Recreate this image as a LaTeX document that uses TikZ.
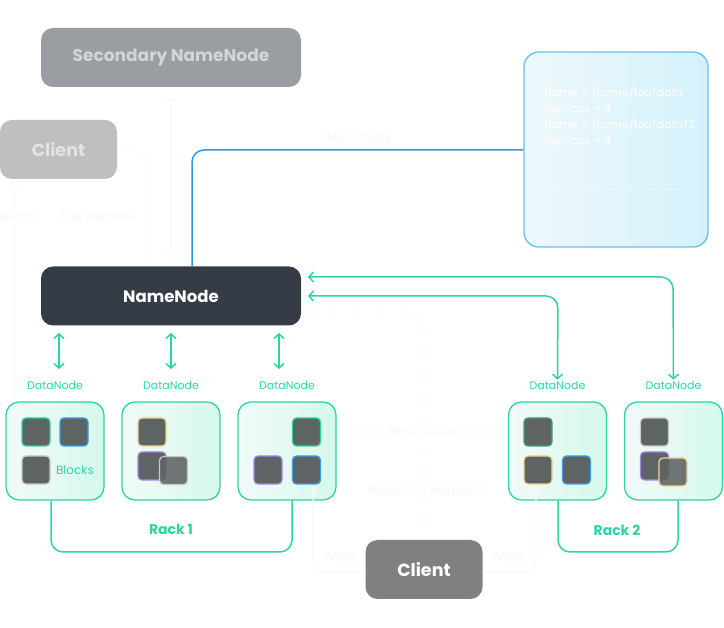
\documentclass[tikz,border=0pt]{standalone}
\usepackage{fontspec}
\setmainfont{Poppins}
\usetikzlibrary{arrows.meta}
\definecolor{grn}{HTML}{2DD4A2}
\definecolor{bluel}{HTML}{2B9AE6}
\definecolor{metab}{HTML}{6CBDF0}
\definecolor{metal}{HTML}{EEF8FB}
\definecolor{metar}{HTML}{D4F2FC}
\definecolor{secf}{HTML}{9A9EA2}
\definecolor{sect}{HTML}{D3D5D7}
\definecolor{cl1f}{HTML}{BFBFBF}
\definecolor{cl1t}{HTML}{E3E3E3}
\definecolor{nnf}{HTML}{353C46}
\definecolor{cl2f}{HTML}{808080}
\definecolor{blkf}{HTML}{5E6363}
\definecolor{bgreen}{HTML}{2DD4A2}
\definecolor{bblue}{HTML}{3A9FE8}
\definecolor{bgray}{HTML}{C8C8C8}
\definecolor{byell}{HTML}{F1D58E}
\definecolor{bpurp}{HTML}{A883EA}
\definecolor{faint}{HTML}{FAFAFA}
\definecolor{faintt}{HTML}{F8F8F8}
\definecolor{metat}{HTML}{FFFFFF}
\definecolor{dnl}{HTML}{F1FAF8}
\definecolor{dnr}{HTML}{D6F9EC}
\tikzset{
  bigbox/.style={rounded corners=12pt, minimum width=260pt, minimum height=59pt, inner sep=0pt, font=\fontsize{17}{20}\selectfont\bfseries},
  clbox/.style={rounded corners=12pt, minimum width=117pt, minimum height=59pt, inner sep=0pt, font=\fontsize{17.5}{20}\selectfont\bfseries},
  dnbox/.style={draw=grn, line width=1.3pt, rounded corners=13pt, left color=dnl, right color=dnr, minimum width=98pt, minimum height=98pt, inner sep=0pt},
  blk/.style={draw=#1, fill=blkf, line width=1.2pt, rounded corners=4pt, minimum size=28pt, inner sep=0pt},
  dnlabel/.style={text=grn, font=\fontsize{11}{13}\selectfont, inner sep=1pt},
  gline/.style={draw=grn, line width=1.5pt, rounded corners=12pt},
  gdarrow/.style={gline, {Straight Barb[length=4.5pt,width=10pt]}-{Straight Barb[length=4.5pt,width=10pt]}},
  fline/.style={draw=faint, line width=1.2pt, rounded corners=12pt},
  farrow/.style={fline, -{Straight Barb[length=4pt,width=9pt]}},
  ftext/.style={text=faintt, font=\fontsize{13}{15}\selectfont, fill=white, inner sep=2pt},
  racklabel/.style={text=grn, font=\fontsize{14}{17}\selectfont\bfseries},
}
\begin{document}
\begin{tikzpicture}[x=1pt,y=-1pt]
\useasboundingbox[fill=white] (0,0) rectangle (724,628);

% faint background connectors
\coordinate (fa) at (171,97);
\coordinate (fb) at (171,258);
\draw[fline, {Straight Barb[length=4pt,width=9pt]}-{Straight Barb[length=4pt,width=9pt]}] (fa) -- (fb);

% main boxes
\node[bigbox, fill=secf, text=sect] (sec) at (171,57.5) {Secondary NameNode};
\node[clbox, fill=cl1f, text=cl1t] (cl1) at (58.5,149.5) {Client};
\node[bigbox, fill=nnf, text=white, font=\fontsize{16.5}{19}\selectfont\bfseries] (nn) at (171,296) {NameNode};
\node[clbox, fill=cl2f, text=white] (cl2) at (424,569.5) {Client};

% metadata box
\node[draw=metab, line width=1.3pt, rounded corners=15pt, left color=metal, right color=metar, minimum width=184pt, minimum height=195pt, inner sep=0pt] (meta) at (616,149.5) {};
\node[anchor=north west, align=left, text=metat, font=\fontsize{11}{16}\selectfont, inner sep=0pt] (metatxt) at (544,86) {Name = /home/foo/data\\Replicas = 3\\Name = /home/foo/data/2\\Replicas = 3};
\coordinate (dl) at (544,190);
\coordinate (dr) at (686,190);
\draw[metat, line width=1pt, dotted] (dl) -- (dr);

% faint lines
\coordinate (fr1) at (148,150);
\coordinate (fr2) at (148,258);
\draw[fline, dashed, dash pattern=on 6pt off 6pt, -{Straight Barb[length=4pt,width=9pt]}] (cl1.east |- fr1) -- (fr1) -- (fr2);
\node[ftext, fill=none] (frt) at (99,217) {File request};

\coordinate (rd1) at (14,432);
\coordinate (rd2) at (14,181);
\coordinate (rdb) at (22,432);
\draw[farrow] (rdb) -- (rd1) -- (rd2);
\node[ftext] (rdt) at (17,217) {Read};

\coordinate (rr1) at (424,312);
\coordinate (rr2) at (308,312);
\draw[fline, dashed, dash pattern=on 6pt off 6pt, -{Straight Barb[length=4pt,width=9pt]}] (cl2.north -| rr1) -- (rr1) -- (rr2);
\node[ftext] (rrt) at (425,492) {Resource Request};
\coordinate (rpl) at (330,432);
\coordinate (rpr) at (520,432);
\draw[fline, {Straight Barb[length=4pt,width=9pt]}-{Straight Barb[length=4pt,width=9pt]}] (rpl) -- (rpr);
\node[ftext] (rpt) at (425,432) {Replication};

\node[ftext, fill=none] (mdt) at (358,138) {Metadata};

% blue metadata line
\coordinate (bl1) at (192,150);
\draw[draw=bluel, line width=1.5pt, rounded corners=12pt] (nn.north -| bl1) -- (bl1) -- (meta.west |- bl1);

% datanodes
\node[dnbox] (d1) at (55,451) {};
\node[dnbox] (d2) at (171,451) {};
\node[dnbox] (d3) at (287,451) {};
\node[dnbox] (d4) at (557.5,451) {};
\node[dnbox] (d5) at (673.5,451) {};

\node[dnlabel] (l1) at (55,385) {DataNode};
\node[dnlabel] (l2) at (171,385) {DataNode};
\node[dnlabel] (l3) at (287,385) {DataNode};
\node[dnlabel] (l4) at (557.5,385) {DataNode};
\node[dnlabel] (l5) at (673.5,385) {DataNode};

% blocks
\node[blk=bgreen] (b1a) at (36,432) {};
\node[blk=bblue] (b1b) at (74,432) {};
\node[blk=bgray] (b1c) at (36,470) {};
\node[text=grn, font=\fontsize{12}{14}\selectfont] (blt) at (75,470) {Blocks};

\node[blk=byell] (b2a) at (152,432) {};
\node[blk=bpurp] (b2b) at (152,466) {};
\node[blk=bgray, fill opacity=0.88] (b2c) at (173.5,470.5) {};

\node[blk=bgreen] (b3a) at (306.5,432) {};
\node[blk=bpurp] (b3b) at (268,470) {};
\node[blk=bblue] (b3c) at (306.5,470) {};

\node[blk=bgreen!50!blkf] (b4a) at (538,432) {};
\node[blk=byell] (b4b) at (538,470) {};
\node[blk=bblue] (b4c) at (576.5,470) {};

\node[blk=bgray] (b5a) at (654.5,432) {};
\node[blk=bpurp] (b5b) at (654.5,466) {};
\node[blk=byell, fill opacity=0.88] (b5c) at (673,472) {};

% write lines
\coordinate (wl1) at (313,572);
\coordinate (wl2) at (313,486);
\draw[farrow] (cl2.west |- wl1) -- (wl1) -- (wl2);
\node[ftext] (wlt) at (340,557) {Write};
\coordinate (wr1) at (536,572);
\coordinate (wr2) at (536,486);
\draw[farrow] (cl2.east |- wr1) -- (wr1) -- (wr2);
\node[ftext] (wrt) at (508,557) {Write};

% green double arrows
\coordinate (ga1) at (59,333);
\coordinate (ga2) at (59,369);
\coordinate (gb1) at (171,333);
\coordinate (gb2) at (171,369);
\coordinate (gc1) at (279,333);
\coordinate (gc2) at (279,369);
\draw[gdarrow] (ga1) -- (ga2);
\draw[gdarrow] (gb1) -- (gb2);
\draw[gdarrow] (gc1) -- (gc2);

% green arrows to right datanodes
\coordinate (g1) at (673,277);
\coordinate (g1s) at (308,277);
\coordinate (g2) at (558,296);
\coordinate (g2s) at (308,296);
\draw[gdarrow] (g1s) -- (g1) -- (l5.north);
\draw[gdarrow] (g2s) -- (g2) -- (l4.north);

% racks
\coordinate (r1a) at (51,552);
\coordinate (r1b) at (292,552);
\draw[gline] (d1.south -| r1a) -- (r1a) -- (r1b) -- (d3.south -| r1b);
\node[racklabel] (rk1) at (171,529) {Rack 1};
\coordinate (r2a) at (558,552);
\coordinate (r2b) at (678,552);
\draw[gline] (d4.south -| r2a) -- (r2a) -- (r2b) -- (d5.south -| r2b);
\node[racklabel] (rk2) at (617,530) {Rack 2};
\end{tikzpicture}
\end{document}
